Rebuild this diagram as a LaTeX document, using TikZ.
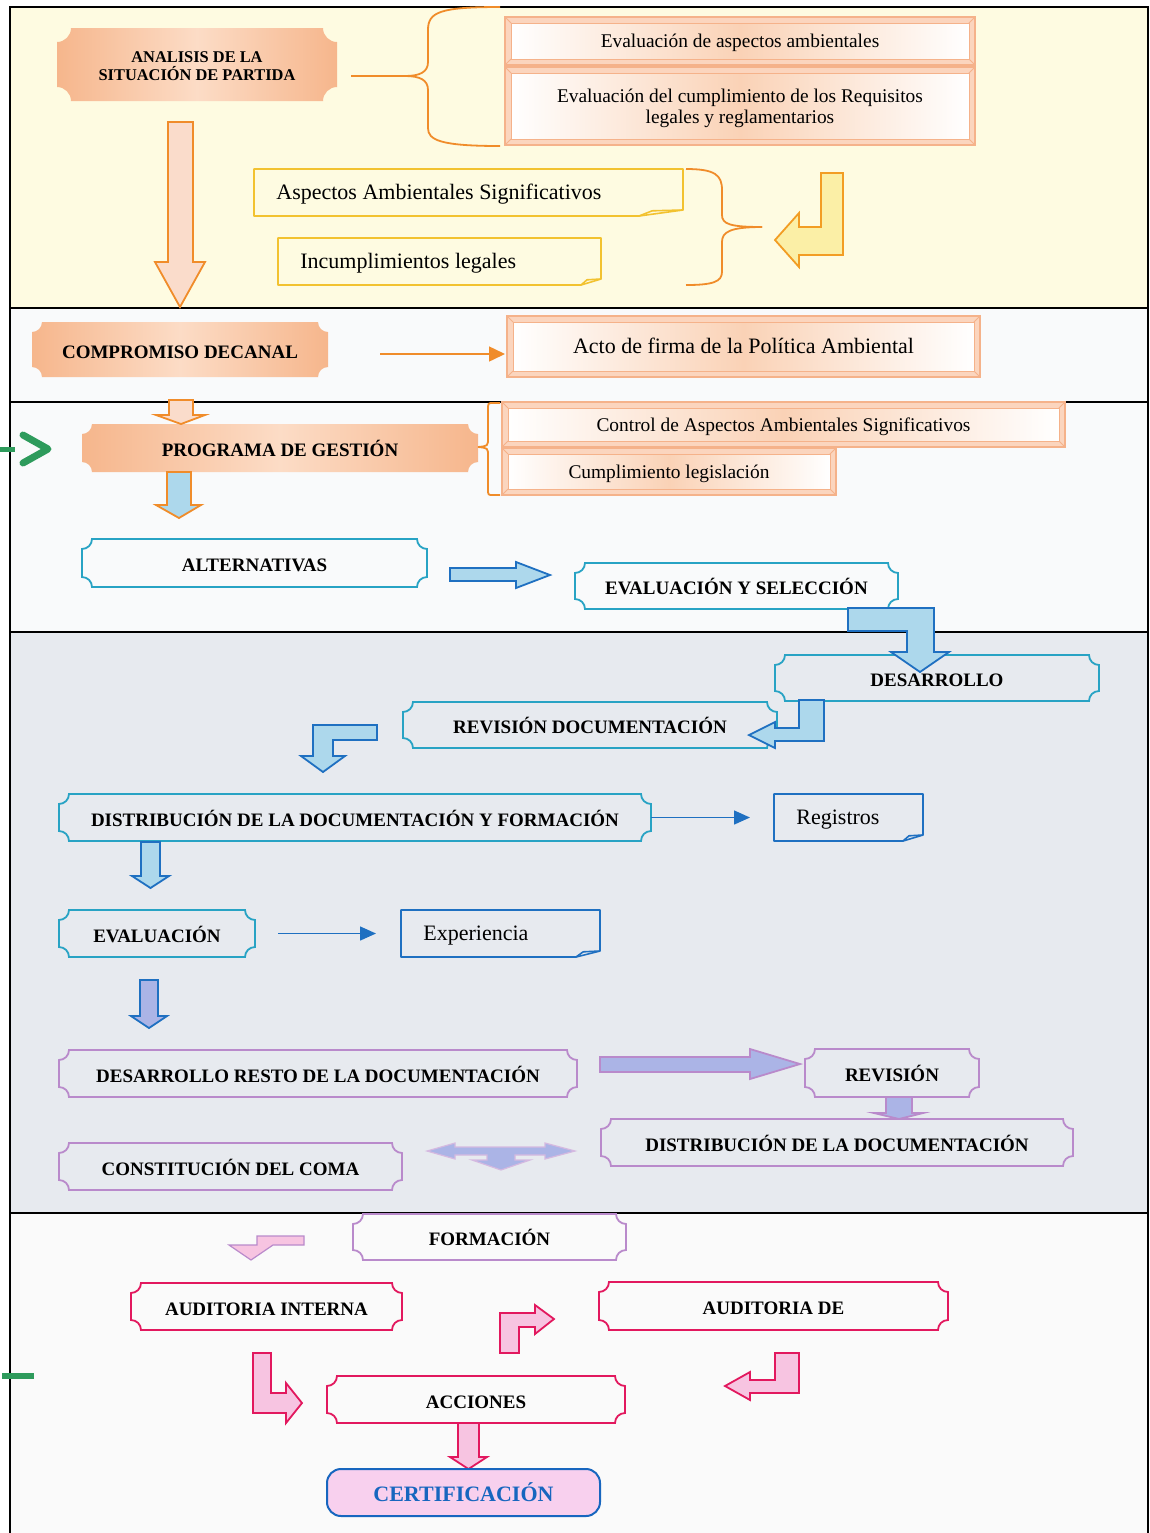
\documentclass[tikz,border=0pt]{standalone}
\usepackage{fontspec}
\setmainfont{Liberation Serif}
\usetikzlibrary{arrows.meta,fit,calc}
\pgfdeclarelayer{panel}
\pgfdeclarelayer{bg}
\pgfsetlayers{panel,bg,main}
\definecolor{pOne}{HTML}{FEFBE1}
\definecolor{pTwo}{HTML}{F9FAFB}
\definecolor{pFour}{HTML}{E7EAEF}
\definecolor{pFive}{HTML}{FAFAFA}
\definecolor{orD}{HTML}{F6B68C}
\definecolor{orL}{HTML}{FCDCC6}
\definecolor{orLine}{HTML}{F08C2A}
\definecolor{bevC}{HTML}{F5B28A}
\definecolor{bevBand}{HTML}{FBD5BE}
\definecolor{glow}{HTML}{FAD2B6}
\definecolor{gold}{HTML}{F2C230}
\definecolor{cyanB}{HTML}{28A3C4}
\definecolor{lavB}{HTML}{B98ACB}
\definecolor{crim}{HTML}{E2185E}
\definecolor{blueL}{HTML}{1F70C1}
\definecolor{lblue}{HTML}{ADD8EC}
\definecolor{lav}{HTML}{ABB4E6}
\definecolor{pinkF}{HTML}{F7C4E1}
\definecolor{certF}{HTML}{F8D0EE}
\definecolor{certB}{HTML}{1766BF}
\definecolor{yelF}{HTML}{FBEFA6}
\definecolor{peachF}{HTML}{FADCCB}
\definecolor{grn}{HTML}{2E9B5C}
\tikzset{
  box/.style={inner sep=0pt, outer sep=0pt},
  oneline/.style={inner sep=0pt, text height=0.66em, text depth=0pt},
  bfont/.style={font=\fontsize{9.5}{11}\selectfont\bfseries, oneline, yshift=-1pt},
  afont/.style={font=\fontsize{8.2}{9}\selectfont\bfseries, align=center, inner sep=0pt, yshift=-1pt},
  rbig/.style={font=\fontsize{11}{13}\selectfont, oneline},
  rsmall/.style={font=\fontsize{9.7}{10.5}\selectfont, oneline},
  rsmalltwo/.style={font=\fontsize{9.7}{10.5}\selectfont, align=center, inner sep=0pt, yshift=-1pt},
  cfont/.style={font=\fontsize{11}{13}\selectfont\bfseries, text=certB, oneline, yshift=-1pt},
  orplq/.style={left color=orD, right color=orD, middle color=orL},
  cyplq/.style={draw=cyanB, line width=0.9pt},
  lvplq/.style={draw=lavB, line width=0.9pt},
  crplq/.style={draw=crim, line width=0.9pt},
  blarrow/.style={draw=blueL, fill=lblue, line width=0.9pt, line join=miter},
  orpeach/.style={draw=orLine, fill=peachF, line width=0.9pt, line join=miter},
  orblue/.style={draw=orLine, fill=lblue, line width=0.9pt, line join=miter},
  yarrow/.style={draw=orLine!85!yellow, fill=yelF, line width=0.9pt, line join=miter},
  lvblue/.style={draw=blueL, fill=lav, line width=0.9pt, line join=miter},
  lvpur/.style={draw=lavB, fill=lav, line width=0.9pt, line join=miter},
  lvlight/.style={draw=lavB!60, fill=lav, line width=0.6pt, line join=miter},
  pkarrow/.style={draw=crim, fill=pinkF, line width=0.9pt, line join=miter},
  pklav/.style={draw=lavB, fill=pinkF, line width=0.6pt, line join=miter},
  brc/.style={orLine, line width=0.9pt},
  thinor/.style={orLine, line width=0.75pt, -{Triangle[length=8pt,width=7.5pt]}},
  thinbl/.style={blueL, line width=0.75pt, -{Triangle[length=8pt,width=7pt]}},
  panelline/.style={black, line width=1pt}
}
% plaque: [radius]{outline style}{name}{c1}{c2}{text style}{text}
\newcommand\plaque[7][5pt]{%
  \node[box, fit={#4 #5}] (#3) {};
  \node[#6] (#3t) at (#3.center) {#7};
  \begin{pgfonlayer}{bg}
  \path[#2] ([xshift=#1]#3.north west) -- ([xshift=-#1]#3.north east)
    .. controls +(0pt,{-0.55*#1}) and +({-0.55*#1},0pt) .. ([yshift=-#1]#3.north east)
    -- ([yshift=#1]#3.south east)
    .. controls +({-0.55*#1},0pt) and +(0pt,{0.55*#1}) .. ([xshift=-#1]#3.south east)
    -- ([xshift=#1]#3.south west)
    .. controls +(0pt,{0.55*#1}) and +({0.55*#1},0pt) .. ([yshift=#1]#3.south west)
    -- ([yshift=-#1]#3.north west)
    .. controls +({0.55*#1},0pt) and +(0pt,{-0.55*#1}) .. cycle;
  \end{pgfonlayer}}
% bevel frame: {name}{c1}{c2}{text style}{text}
\newcommand\bevel[5]{%
  \node[box, fit={#2 #3}] (#1) {};
  \node[#4] (#1t) at (#1.center) {#5};
  \begin{pgfonlayer}{bg}
  \fill[bevBand] (#1.north west) rectangle (#1.south east);
  \shade[left color=white, right color=white, middle color=glow]
    ([shift={(3pt,-3pt)}]#1.north west) rectangle ([shift={(-3pt,3pt)}]#1.south east);
  \draw[bevC, line width=0.8pt] (#1.north west) rectangle (#1.south east);
  \draw[bevC, line width=0.5pt] ([shift={(3pt,-3pt)}]#1.north west) rectangle ([shift={(-3pt,3pt)}]#1.south east);
  \draw[bevC, line width=0.5pt] (#1.north west) -- ++(3pt,-3pt) (#1.north east) -- ++(-3pt,-3pt)
    (#1.south west) -- ++(3pt,3pt) (#1.south east) -- ++(-3pt,3pt);
  \end{pgfonlayer}}
% note with folded corner: {name}{c1}{c2}{colour}{fold}{text}
\newcommand\notebox[6]{%
  \node[box, fit={#2 #3}] (#1) {};
  \node[anchor=west, rbig] (#1t) at ([xshift=11pt]#1.west) {#6};
  \begin{pgfonlayer}{bg}
  \draw[#4, line width=0.8pt, line join=round] (#1.north west) -- (#1.north east)
    -- ([yshift=3pt]#1.south east) -- ([xshift=-#5]#1.south east) -- (#1.south west) -- cycle;
  \draw[#4, line width=0.8pt, line join=round] ([xshift=-#5]#1.south east)
    -- ([xshift={-0.7*#5}, yshift=2.6pt]#1.south east) -- ([yshift=3pt]#1.south east);
  \end{pgfonlayer}}
\begin{document}
\begin{tikzpicture}[x=0.5pt, y=-0.5pt]
\useasboundingbox (0,0) rectangle (1150,1533);
% ---------- panels ----------
\begin{pgfonlayer}{panel}
  \fill[white] (0,0) rectangle (1150,1533);
  \fill[pOne] (10,7) rectangle (1148,308);
  \fill[pTwo] (10,308) rectangle (1148,632);
  \fill[pFour] (10,632) rectangle (1148,1213);
  \fill[pFive] (10,1213) rectangle (1148,1533);
  \draw[panelline] (10,1533) -- (10,7) -- (1148,7) -- (1148,1533);
  \draw[panelline] (10,308) -- (1148,308);
  \draw[panelline] (10,402) -- (1148,402);
  \draw[panelline] (10,632) -- (1148,632);
  \draw[panelline] (10,1213) -- (1148,1213);
\end{pgfonlayer}
% ---------- panel 1 ----------
\plaque[7pt]{orplq}{anal}{(57,28)}{(337,101)}{afont}{ANALISIS DE LA\\SITUACIÓN DE PARTIDA}
\bevel{evasp}{(505,17)}{(975,65)}{rsmall}{Evaluación de aspectos ambientales}
\bevel{evreq}{(505,67)}{(975,145)}{rsmalltwo}{Evaluación del cumplimiento de los Requisitos\\legales y reglamentarios}
\notebox{asp}{(254,169)}{(683,216)}{gold}{22pt}{Aspectos Ambientales Significativos}
\notebox{inc}{(278,238)}{(601,285)}{gold}{10pt}{Incumplimientos legales}
% brace from analisis
\draw[brc] (anal.east |- 0,76) ++(7pt,0) -- (405,76)
  .. controls (420,76) and (428,72) .. (428,62) -- (428,30)
  .. controls (428,12) and (440,7) .. (500,7);
\draw[brc] (405,76) .. controls (420,76) and (428,80) .. (428,90) -- (428,128)
  .. controls (428,140) and (440,146) .. (500,146);
% brace right of notes
\draw[brc] (686,169) .. controls (715,169) and (722,175) .. (722,190) -- (722,215)
  .. controls (722,224) and (730,227) .. (762,227);
\draw[brc] (762,227) .. controls (730,227) and (722,232) .. (722,242) -- (722,272)
  .. controls (722,282) and (712,285) .. (686,285);
% big down arrow
\draw[orpeach] (168,122) -- (193,122) -- (193,262) -- (205,262) -- (180,307) -- (155,262) -- (168,262) -- cycle;
% yellow return arrow
\draw[yarrow] (821,173) -- (843,173) -- (843,255) -- (799,255) -- (799,267) -- (775,240) -- (799,213) -- (799,227) -- (821,227) -- cycle;
% ---------- panel 2 ----------
\plaque{orplq}{comp}{(32,322)}{(328,377)}{bfont}{COMPROMISO DECANAL}
\bevel{acto}{(507,316)}{(980,377)}{rbig}{Acto de firma de la Política Ambiental}
\draw[thinor, shorten <=26pt, shorten >=1pt] ([yshift=-2.25pt]comp.east) -- ([yshift=-2.25pt]comp.east -| acto.west);
% ---------- panel 3 ----------
\draw[orpeach] (169,400) -- (193,400) -- (193,415) -- (205,415) -- (181,424) -- (156,415) -- (169,415) -- cycle;
\plaque{orplq}{prog}{(82,424)}{(478,472)}{bfont}{PROGRAMA DE GESTIÓN}
\bevel{ctrl}{(502,402)}{(1065,447)}{rsmall}{Control de Aspectos Ambientales Significativos}
\bevel{cumpl}{(502,448)}{(836,495)}{rsmall}{Cumplimiento legislación}
\draw[brc] (500,403) -- (493,403) .. controls (488,403) .. (488,410) -- (488,438)
  .. controls (488,446) .. (prog.east |- 0,447);
\draw[brc] (prog.east |- 0,447) .. controls (488,448) .. (488,456) -- (488,489)
  .. controls (488,495) .. (493,495) -- (500,495);
\draw[orblue] (167,472) -- (191,472) -- (191,505) -- (201,505) -- (179,518) -- (156,505) -- (167,505) -- cycle;
\plaque{cyplq}{alt}{(82,539)}{(427,587)}{bfont}{ALTERNATIVAS}
\plaque{cyplq}{evsel}{(575,563)}{(898,609)}{bfont}{EVALUACIÓN Y SELECCIÓN}
\draw[blarrow] (450,568) -- (516,568) -- (516,562) -- (550,575) -- (516,588) -- (516,581) -- (450,581) -- cycle;
% green marks
\draw[grn, line width=3.5pt, line cap=round, line join=round] (23,435) -- (48,449) -- (23,463);
\draw[grn, line width=2.5pt] (0,449) -- (15,449);
\draw[grn, line width=3pt] (2,1376) -- (34,1376);
% ---------- panel 4 ----------
\plaque{cyplq}{desa}{(775,655)}{(1099,701)}{bfont}{DESARROLLO}
\plaque{cyplq}{revdoc}{(403,702)}{(777,748)}{bfont}{REVISIÓN DOCUMENTACIÓN}
\draw[blarrow] (848,608) -- (934,608) -- (934,652) -- (949,652) -- (920,672) -- (891,652) -- (907,652) -- (907,631) -- (848,631) -- cycle;
\draw[blarrow] (799,700) -- (824,700) -- (824,741) -- (775,741) -- (775,748) -- (749,735) -- (775,722) -- (775,728) -- (799,728) -- cycle;
\draw[blarrow] (377,725) -- (377,740) -- (333,740) -- (333,756) -- (345,756) -- (323,772) -- (301,756) -- (313,756) -- (313,725) -- cycle;
\plaque{cyplq}{distf}{(59,794)}{(651,841)}{bfont}{DISTRIBUCIÓN DE LA DOCUMENTACIÓN Y FORMACIÓN}
\notebox{reg}{(774,794)}{(923,841)}{blueL}{10pt}{Registros}
\draw[thinbl, shorten >=12pt] (distf.east) -- (reg.west);
\draw[blarrow] (141,842) -- (160,842) -- (160,876) -- (169,876) -- (150.5,888) -- (132,876) -- (141,876) -- cycle;
\plaque{cyplq}{eval}{(59,910)}{(255,957)}{bfont}{EVALUACIÓN}
\notebox{exp}{(401,910)}{(600,957)}{blueL}{12pt}{Experiencia}
\draw[thinbl, shorten <=11.5pt, shorten >=12.5pt] (eval.east) -- (exp.west);
\draw[lvblue] (140,980) -- (158,980) -- (158,1016) -- (167,1016) -- (149,1028) -- (131,1016) -- (140,1016) -- cycle;
\plaque{lvplq}{resto}{(59,1050)}{(577,1097)}{bfont}{DESARROLLO RESTO DE LA DOCUMENTACIÓN}
\plaque{lvplq}{revis}{(805,1049)}{(979,1097)}{bfont}{REVISIÓN}
\draw[lvpur] (600,1057) -- (750,1057) -- (750,1049) -- (800,1064) -- (750,1079) -- (750,1072) -- (600,1072) -- cycle;
\plaque{lvplq}{distd}{(601,1119)}{(1073,1166)}{bfont}{DISTRIBUCIÓN DE LA DOCUMENTACIÓN}
\draw[lvpur] (886,1097) -- (912,1097) -- (912,1113) -- (923,1113) -- (899,1119) -- (874,1113) -- (886,1113) -- cycle;
\plaque{lvplq}{coma}{(59,1143)}{(402,1190)}{bfont}{CONSTITUCIÓN DEL COMA}
\draw[lvlight] (427,1151) -- (455,1143) -- (455,1147) -- (545,1147) -- (545,1143) -- (575,1151) -- (545,1159) -- (545,1155) -- (515,1155) -- (515,1160) -- (530,1160) -- (501,1170) -- (472,1160) -- (487,1160) -- (487,1155) -- (455,1155) -- (455,1159) -- cycle;
% ---------- panel 5 ----------
\plaque{lvplq}{form}{(353,1214)}{(626,1260)}{bfont}{FORMACIÓN}
\draw[pklav] (257,1236) -- (304,1236) -- (304,1245) -- (273,1245) -- (251,1260) -- (229,1245) -- (257,1245) -- cycle;
\plaque{crplq}{audi}{(131,1283)}{(402,1330)}{bfont}{AUDITORIA INTERNA}
\plaque{crplq}{aude}{(599,1282)}{(948,1330)}{bfont}{AUDITORIA DE}
\plaque{crplq}{acc}{(327,1376)}{(625,1423)}{bfont}{ACCIONES}
\draw[pkarrow] (253,1353) -- (271,1353) -- (271,1393) -- (286,1393) -- (286,1383) -- (302,1403) -- (286,1423) -- (286,1413) -- (253,1413) -- cycle;
\draw[pkarrow] (500,1353) -- (519,1353) -- (519,1327) -- (535,1327) -- (535,1334) -- (554,1319) -- (535,1305) -- (535,1313) -- (500,1313) -- cycle;
\draw[pkarrow] (775,1353) -- (799,1353) -- (799,1393) -- (750,1393) -- (750,1400) -- (725,1386) -- (750,1372) -- (750,1380) -- (775,1380) -- cycle;
\draw[pkarrow] (458,1423) -- (479,1423) -- (479,1457) -- (487,1457) -- (468.5,1469) -- (450,1457) -- (458,1457) -- cycle;
\node[box, fit={(327,1469) (600,1516)}, rounded corners=7pt, draw=certB, fill=certF, line width=1pt] (cert) {};
\node[cfont] (certt) at (cert.center) {CERTIFICACIÓN};
\end{tikzpicture}
\end{document}
